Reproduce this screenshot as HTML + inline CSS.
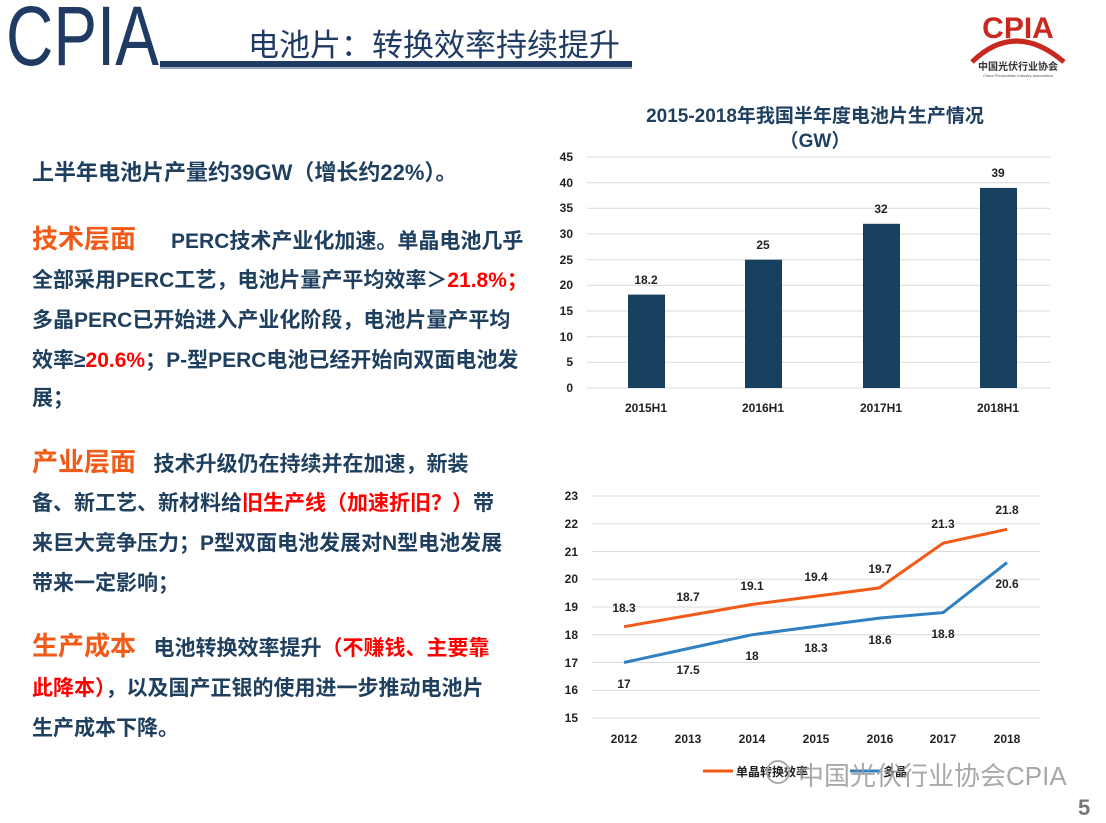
<!DOCTYPE html>
<html><head><meta charset="utf-8"><style>
body{margin:0;width:1106px;height:823px;background:#fff;position:relative;overflow:hidden;font-family:"Liberation Sans","Noto Sans CJK SC",sans-serif}
.t{position:absolute;white-space:nowrap;font-weight:bold;color:#1f3f5f;font-size:21px}
.h{color:#f25a17;font-size:26px}
.r{color:#ff0000}
</style></head><body>
<div style="position:absolute;left:6px;top:-12px;font-size:84px;color:#1f3b63;transform:scaleX(0.78);transform-origin:0 0;font-family:'Liberation Sans',sans-serif">CPIA</div>
<div style="position:absolute;left:160px;top:61px;width:472px;height:6px;background:#1f3b63"></div>
<div style="position:absolute;left:160px;top:67px;width:472px;height:2px;background:#9aa8bb"></div>
<div style="position:absolute;left:248px;top:20px;font-size:31px;color:#1f3b63">电池片：转换效率持续提升</div>
<svg style="position:absolute;left:960px;top:0" width="120" height="80">
<path d="M12 62 Q55 20 104 62" stroke="#c8291f" stroke-width="5" fill="none"/>
<text x="58" y="38" text-anchor="middle" font-size="30" font-weight="bold" fill="#c8291f" font-family="Liberation Sans">CPIA</text>
<text x="58" y="70" text-anchor="middle" font-size="10" font-weight="bold" fill="#333" font-family="Noto Sans CJK SC">中国光伏行业协会</text>
<text x="58" y="77" text-anchor="middle" font-size="4" fill="#555">China Photovoltaic Industry Association</text>
</svg>

<div class="t" style="left:32px;top:155px;font-size:22px">上半年电池片产量约39GW（增长约22%）。</div>
<div class="t" style="left:32px;top:219px"><span class="h">技术层面</span>&nbsp;&nbsp;&nbsp;&nbsp;&nbsp; PERC技术产业化加速。单晶电池几乎</div>
<div class="t" style="left:32px;top:264px">全部采用PERC工艺，电池片量产平均效率＞<span class="r">21.8%；</span></div>
<div class="t" style="left:32px;top:304px">多晶PERC已开始进入产业化阶段，电池片量产平均</div>
<div class="t" style="left:32px;top:344px">效率≥<span class="r">20.6%</span>；P-型PERC电池已经开始向双面电池发</div>
<div class="t" style="left:32px;top:382px">展；</div>
<div class="t" style="left:32px;top:442px"><span class="h">产业层面</span>&nbsp;&nbsp; 技术升级仍在持续并在加速，新装</div>
<div class="t" style="left:32px;top:487px">备、新工艺、新材料给<span class="r">旧生产线（加速折旧？）</span>带</div>
<div class="t" style="left:32px;top:527px">来巨大竞争压力；P型双面电池发展对N型电池发展</div>
<div class="t" style="left:32px;top:567px">带来一定影响；</div>
<div class="t" style="left:32px;top:626px"><span class="h">生产成本</span>&nbsp;&nbsp; 电池转换效率提升<span class="r">（不赚钱、主要靠</span></div>
<div class="t" style="left:32px;top:672px"><span class="r">此降本）</span>，以及国产正银的使用进一步推动电池片</div>
<div class="t" style="left:32px;top:712px">生产成本下降。</div>

<svg style="position:absolute;left:0;top:0" width="1106" height="823" font-family="Liberation Sans,Noto Sans CJK SC,sans-serif" font-weight="bold">
<text x="815" y="122" text-anchor="middle" font-size="19" fill="#1f3f5f">2015-2018年我国半年度电池片生产情况</text>
<text x="815" y="147" text-anchor="middle" font-size="19" fill="#1f3f5f">（GW）</text>
<g stroke="#d9d9d9" stroke-width="1">
<line x1="587" x2="1050" y1="157" y2="157"/><line x1="587" x2="1050" y1="182.7" y2="182.7"/><line x1="587" x2="1050" y1="208.3" y2="208.3"/><line x1="587" x2="1050" y1="234" y2="234"/><line x1="587" x2="1050" y1="259.7" y2="259.7"/><line x1="587" x2="1050" y1="285.3" y2="285.3"/><line x1="587" x2="1050" y1="311" y2="311"/><line x1="587" x2="1050" y1="336.7" y2="336.7"/><line x1="587" x2="1050" y1="362.3" y2="362.3"/><line x1="587" x2="1050" y1="388" y2="388"/>
</g>
<g font-size="12" fill="#222" text-anchor="end">
<text x="573" y="161">45</text><text x="573" y="187">40</text><text x="573" y="212">35</text><text x="573" y="238">30</text><text x="573" y="264">25</text><text x="573" y="289">20</text><text x="573" y="315">15</text><text x="573" y="341">10</text><text x="573" y="366">5</text><text x="573" y="392">0</text>
</g>
<g fill="#17405f">
<rect x="628" y="294.6" width="37" height="93.4"/><rect x="745" y="259.7" width="37" height="128.3"/><rect x="863" y="223.8" width="37" height="164.2"/><rect x="980" y="187.9" width="37" height="200.1"/>
</g>
<g font-size="12" fill="#222" text-anchor="middle">
<text x="646" y="284">18.2</text><text x="763" y="249">25</text><text x="881" y="213">32</text><text x="998" y="177">39</text>
<text x="646" y="412">2015H1</text><text x="763" y="412">2016H1</text><text x="881" y="412">2017H1</text><text x="998" y="412">2018H1</text>
</g>

<g stroke="#d9d9d9" stroke-width="1">
<line x1="592" x2="1040" y1="496" y2="496"/><line x1="592" x2="1040" y1="523.8" y2="523.8"/><line x1="592" x2="1040" y1="551.5" y2="551.5"/><line x1="592" x2="1040" y1="579.3" y2="579.3"/><line x1="592" x2="1040" y1="607" y2="607"/><line x1="592" x2="1040" y1="634.8" y2="634.8"/><line x1="592" x2="1040" y1="662.5" y2="662.5"/><line x1="592" x2="1040" y1="690.3" y2="690.3"/><line x1="592" x2="1040" y1="718" y2="718"/>
</g>
<g font-size="12" fill="#222" text-anchor="end">
<text x="578" y="500">23</text><text x="578" y="528">22</text><text x="578" y="556">21</text><text x="578" y="583">20</text><text x="578" y="611">19</text><text x="578" y="639">18</text><text x="578" y="667">17</text><text x="578" y="694">16</text><text x="578" y="722">15</text>
</g>
<polyline fill="none" stroke="#f25a17" stroke-width="3" points="624,626.7 687.8,615.6 751.7,604.5 815.5,596.2 879.3,587.9 943.2,543.2 1007,529.3"/>
<polyline fill="none" stroke="#2f7fc1" stroke-width="3" points="624,662.5 687.8,648.6 751.7,634.8 815.5,626.4 879.3,618.1 943.2,612.6 1007,562.6"/>
<g font-size="12" fill="#222" text-anchor="middle">
<text x="624" y="612">18.3</text><text x="688" y="601">18.7</text><text x="752" y="590">19.1</text><text x="816" y="581">19.4</text><text x="880" y="573">19.7</text><text x="943" y="528">21.3</text><text x="1007" y="514">21.8</text>
<text x="624" y="688">17</text><text x="688" y="674">17.5</text><text x="752" y="660">18</text><text x="816" y="652">18.3</text><text x="880" y="644">18.6</text><text x="943" y="638">18.8</text><text x="1007" y="588">20.6</text>
<text x="624" y="743">2012</text><text x="688" y="743">2013</text><text x="752" y="743">2014</text><text x="816" y="743">2015</text><text x="880" y="743">2016</text><text x="943" y="743">2017</text><text x="1007" y="743">2018</text>
</g>
<line x1="703" x2="733" y1="771" y2="771" stroke="#f25a17" stroke-width="3"/>
<text x="736" y="776" font-size="12" fill="#222">单晶转换效率</text>
<line x1="850" x2="880" y1="771" y2="771" stroke="#2f7fc1" stroke-width="3"/>
<text x="883" y="776" font-size="12" fill="#222">多晶</text>
<circle cx="778" cy="772" r="11" fill="none" stroke="#aaa" stroke-width="2"/>
<text x="798" y="785" font-size="26" font-weight="normal" fill="#999" fill-opacity="0.85">中国光伏行业协会CPIA</text>
<text x="1078" y="815" font-size="22" fill="#777">5</text>
</svg>
</body></html>
